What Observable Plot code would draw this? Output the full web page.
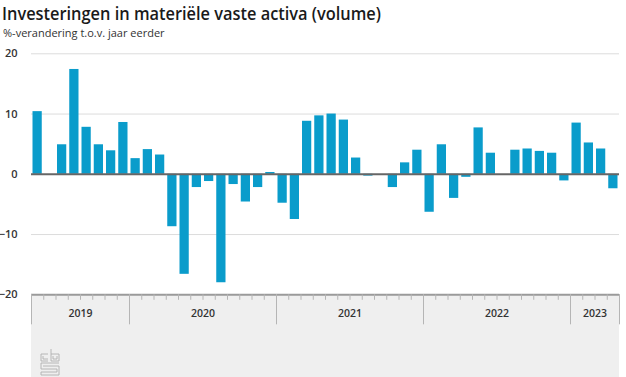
<!DOCTYPE html>
<html>
<head>
<meta charset="utf-8">
<script src="https://cdn.jsdelivr.net/npm/d3@7"></script>
<script src="https://cdn.jsdelivr.net/npm/@observablehq/plot@0.6"></script>
<style>
  html, body { margin: 0; padding: 0; background: #fff; }
  body { width: 626px; height: 377px; overflow: hidden; position: relative; font-family: "Open Sans", "Noto Sans", sans-serif; }
  #title { position: absolute; left: 2px; top: 1px; font-size: 18px; font-weight: 600; color: #1a1a1a; white-space: nowrap; transform-origin: left top; }
  #subtitle { position: absolute; left: 3px; top: 25px; font-size: 11px; color: #333; white-space: nowrap; }
  #band { position: absolute; left: 31px; top: 295px; width: 588px; height: 82px; background: #efefef; }
  #chart { position: absolute; left: 0; top: 45px; }
  #logo { position: absolute; left: 40px; top: 348px; }
</style>
</head>
<body>
<div id="band"></div>
<svg id="logo" width="20" height="28" viewBox="0 0 20 28">
  <g fill="none" stroke="#b0b0b0" stroke-width="0.9">
    <path d="M1 6 H8 M1 6 V13 H8 M3 8 V11 H8"/>
    <path d="M11 1 V13 H19 V6 H11 M13 8 V11 H17 V8"/>
    <path d="M19 15 H1 V21 H17 V24 H1 V27 H19 V18 H3"/>
  </g>
</svg>
<div id="title">Investeringen in materiële vaste activa (volume)</div>
<div id="subtitle">%-verandering t.o.v. jaar eerder</div>
<div id="chart"></div>
<script>
// Months shown (May 2019 – Apr 2023)
const months = [
  "2019-05","2019-06","2019-07","2019-08","2019-09","2019-10","2019-11","2019-12",
  "2020-01","2020-02","2020-03","2020-04","2020-05","2020-06","2020-07","2020-08","2020-09","2020-10","2020-11","2020-12",
  "2021-01","2021-02","2021-03","2021-04","2021-05","2021-06","2021-07","2021-08","2021-09","2021-10","2021-11","2021-12",
  "2022-01","2022-02","2022-03","2022-04","2022-05","2022-06","2022-07","2022-08","2022-09","2022-10","2022-11","2022-12",
  "2023-01","2023-02","2023-03","2023-04"
];
// % change vs. year earlier
const values = [
  10.4, null, 4.9, 17.4, 7.8, 4.9, 3.9, 8.6,
  2.6, 4.1, 3.2, -8.7, -16.6, -2.2, -1.2, -18.0, -1.7, -4.6, -2.2, 0.3,
  -4.8, -7.5, 8.8, 9.7, 10.0, 9.0, 2.7, -0.3, 0, -2.2, 1.9, 4.0,
  -6.3, 4.9, -4.0, -0.5, 7.7, 3.5, null, 4.0, 4.2, 3.8, 3.5, -1.1,
  8.5, 5.2, 4.2, -2.4
];
const yTicks = [-20, -10, 0, 10, 20];
const gridTicks = [20, 10, -10];
const yearLabels = ["2019", "2020", "2021", "2022", "2023"];

const data = months.map((m, i) => ({month: m, year: m.slice(0, 4), i, value: values[i]}));
const bars = data.filter(d => d.value !== null && d.value !== 0);
const n = months.length;

// year segments derived from the months
const years = yearLabels.map(y => {
  const idx = data.filter(d => d.year === y).map(d => d.i);
  return {year: y, start: d3.min(idx), end: d3.max(idx) + 1};
});
const yearEdges = [0, ...years.map(y => y.end)];
const monthEdges = d3.range(n + 1);

const W = 626, H = 332;
const plot = Plot.plot({
  width: W,
  height: H,
  marginLeft: 31,
  marginRight: 7,
  marginTop: 8.3,
  marginBottom: 82.7,
  style: {background: "transparent", fontFamily: "'Open Sans', 'Noto Sans', sans-serif", overflow: "visible"},
  x: {type: "linear", domain: [0, n], axis: null},
  y: {domain: [-20, 20], axis: null},
  marks: [
    Plot.ruleY(gridTicks, {stroke: "#dcdcdc", strokeWidth: 1}),
    Plot.rectY(bars, {x1: "i", x2: d => d.i + 1, y: "value", fill: "#0a9ccb", insetLeft: 1.5, insetRight: 1.5}),
    Plot.ruleY([0], {stroke: "#666", strokeWidth: 2}),
    Plot.ruleY([-20], {stroke: "#9a9a9a", strokeWidth: 2}),
    Plot.ruleX(monthEdges, {y1: -20, y2: -20, insetBottom: -5.5, stroke: "#b5b5b5", strokeWidth: 1}),
    Plot.ruleX(yearEdges, {y1: -20, y2: -20, insetBottom: -30, stroke: "#b5b5b5", strokeWidth: 1}),
    Plot.text(years, {x: d => (d.start + d.end) / 2, y: -20, text: "year", dy: 19, fontSize: 10.5, fontWeight: 600, fill: "#333"}),
    Plot.axisY(yTicks, {anchor: "left", tickSize: 0, tickPadding: 14, fontSize: 11, fontWeight: 600, fill: "#333", label: null})
  ]
});
document.getElementById("chart").appendChild(plot);

// fit title width to the reference (~379px)
const t = document.getElementById("title");
const w = t.getBoundingClientRect().width;
t.style.transform = `scaleX(${379 / w})`;
</script>
</body>
</html>
